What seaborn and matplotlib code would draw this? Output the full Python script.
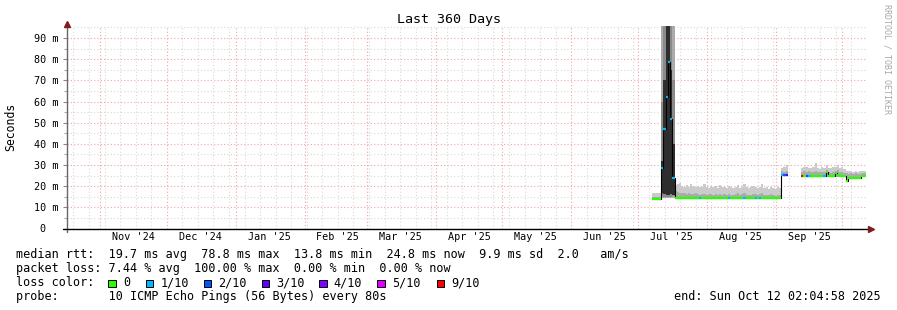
import datetime as dt
import numpy as np
import pandas as pd
import matplotlib
matplotlib.use("Agg")
import matplotlib.pyplot as plt
import matplotlib.dates as mdates
from matplotlib.patches import Rectangle
from matplotlib.ticker import MultipleLocator, FuncFormatter
import seaborn as sns

nan = np.nan

# ---------------- data (one sample per day, starting 2025-07-07 12:00) ----------------
data_start = "2025-07-07 12:00"

median = ([13.8] * 4 + [28.7, 47.0, 62.0, 78.8, 51.8, 24.0]
          + [14.6, 14.6, 14.5, 14.5, 14.4, 14.4, 14.3, 14.3, 14.3, 14.2]
          + [14.2] * 38 + [25.3, 25.3, 25.3] + [nan] * 6
          + [24.9] * 11
          + [26.5, 24.9, 24.9, 24.9, 26.0, 25.5, 24.9, 24.9, 24.9, 22.3]
          + [24.0] * 6 + [24.8, 24.8])

loss = ([0] * 4 + [1] * 6 + [0] * 11 + [1] + [0] * 12 + [1] + [0] * 6 + [1]
        + [0] * 4 + [1] + [0] + [1] + [0] * 9 + [1, 2, 3] + [nan] * 6
        + [9, 0, 2, 1] + [0] * 6 + [1] + [0] * 18)

smoke_lo = ([13.4] * 4 + [14.2] * 6 + [13.9] * 48 + [24.9] * 3 + [nan] * 6
            + [24.5] * 20 + [21.9] + [23.6] * 6 + [24.4] * 2)

smoke_mid = ([15.0] * 4 + [96.0] * 6
             + [17.5, 17.2, 17.0, 16.6, 16.8, 16.4, 16.9, 16.5, 16.2, 16.6,
                16.3, 16.0, 16.5, 16.2, 15.9, 16.4, 16.1, 15.8, 16.3, 16.0,
                16.4, 15.9, 16.2, 15.8, 16.5, 16.0, 15.7, 16.2, 16.6, 15.9,
                16.1, 16.7, 15.9, 15.6, 16.0, 16.4, 16.2, 15.8, 16.3, 16.8,
                15.9, 16.0, 15.6, 16.1, 15.7, 15.5, 15.9, 15.6]
             + [27.0, 26.8, 27.3] + [nan] * 6
             + [26.9, 27.2, 26.8, 27.0, 26.6, 26.9, 27.4, 26.7, 26.5, 26.9,
                26.6, 27.5, 26.8, 26.4, 26.9, 27.3, 27.6, 26.7, 26.9, 26.4,
                26.0, 25.9, 26.1, 25.8, 26.0, 25.7, 25.9, 26.2, 26.0])

smoke_hi = ([16.6] * 4 + [96.0] * 6
            + [20.5, 20.8, 21.4, 20.2, 19.8, 20.6, 19.6, 21.2, 19.9, 19.5,
               20.3, 19.4, 19.8, 21.0, 19.6, 19.2, 20.1, 19.5, 19.9, 19.3,
               20.6, 19.4, 19.7, 19.2, 20.2, 19.6, 19.0, 19.8, 20.4, 19.3,
               19.6, 20.9, 19.5, 19.1, 19.8, 20.3, 19.4, 19.0, 19.7, 21.0,
               19.2, 19.5, 18.9, 19.6, 19.1, 18.8, 19.4, 19.0]
            + [28.6, 29.0, 30.0] + [nan] * 6
            + [28.6, 28.9, 29.2, 28.4, 28.8, 29.0, 31.1, 28.7, 28.3, 29.1,
               28.6, 30.0, 28.8, 28.4, 29.3, 28.9, 30.0, 28.5, 28.9, 28.2,
               27.4, 27.0, 27.3, 26.9, 27.2, 26.8, 27.1, 27.3, 27.0])

# darker inner smoke, only during the early-July spike
inner_lo = [nan] * 4 + [15.5, 15.0, 15.0, 15.0, 15.0, 15.5] + [nan] * 86
inner_hi = [nan] * 4 + [60.0, 96.0, 96.0, 96.0, 96.0, 70.0] + [nan] * 86
core_lo = [nan] * 4 + [17.0, 16.5, 16.0, 16.0, 16.5, 16.0] + [nan] * 86
core_hi = [nan] * 4 + [32.0, 70.0, 96.0, 96.0, 75.0, 40.0] + [nan] * 86

loss_labels = ["0", "1/10", "2/10", "3/10", "4/10", "5/10", "9/10"]
loss_values = [0, 1, 2, 3, 4, 5, 9]
loss_hex = ["#26ff00", "#00b8ff", "#0059ff", "#5e00ff", "#7e00ff", "#dd00ff", "#ff0000"]

y_ticks_ms = [0, 10, 20, 30, 40, 50, 60, 70, 80, 90]

stat_lines = [
    "median rtt:  19.7 ms avg  78.8 ms max  13.8 ms min  24.8 ms now  9.9 ms sd  2.0   am/s",
    "packet loss: 7.44 % avg  100.00 % max  0.00 % min  0.00 % now",
]
probe_line = "probe:       10 ICMP Echo Pings (56 Bytes) every 80s"
end_line = "end: Sun Oct 12 02:04:58 2025"
title = "Last 360 Days"

# ---------------- style ----------------
sns.set_theme(style="white")
plt.rcParams["font.family"] = ["DejaVu Sans Mono", "DejaVu Sans"]
plt.rcParams["text.color"] = "black"

W, H = 897, 310
fig = plt.figure(figsize=(W / 100, H / 100), dpi=100)
fig.patch.set_facecolor("white")
X0, X1, YB, YT = 67, 867, 228.5, 26
ax = fig.add_axes([X0 / W, 1 - YB / H, (X1 - X0) / W, (YB - YT) / H])
ax.set_facecolor("white")

t_start = dt.datetime(2024, 10, 17, 2, 4, 58)
t_end = dt.datetime(2025, 10, 12, 2, 4, 58)

med = np.array(median, dtype=float)
lss = np.array(loss, dtype=float)
edges = pd.date_range(data_start, periods=len(med) + 1, freq="D")
e = mdates.date2num(edges.to_pydatetime())

LIGHT, MID, INNER, DARK = "#cbcbcb", "#ababab", "#8a8a8a", "#2e2e2e"
ax.stairs(np.array(smoke_hi), e, baseline=np.array(smoke_lo), fill=True,
          color=LIGHT, lw=0, zorder=2)
ax.stairs(np.array(smoke_mid), e, baseline=np.array(smoke_lo), fill=True,
          color=MID, lw=0, zorder=2.1)
ax.stairs(np.array(inner_hi), e, baseline=np.array(inner_lo), fill=True,
          color=INNER, lw=0, zorder=2.15)
ax.stairs(np.array(core_hi), e, baseline=np.array(core_lo), fill=True,
          color=DARK, lw=0, zorder=2.2)

df = pd.DataFrame({"t": e[:-1], "median": med,
                   "seg": np.cumsum(np.isnan(med))})
sns.lineplot(data=df, x="t", y="median", units="seg", estimator=None,
             drawstyle="steps-post", color="black", lw=0.8, ax=ax,
             zorder=3, legend=False)

cmap = dict(zip(loss_values, loss_hex))
ok = ~np.isnan(med)
ax.hlines(med[ok], e[:-1][ok], e[1:][ok],
          colors=[cmap[int(v)] for v in lss[ok]], lw=1.6, zorder=4)

ax.set_xlabel("")
ax.set_ylabel("")
ax.set_xlim(mdates.date2num(t_start), mdates.date2num(t_end))
ax.set_ylim(0, 95.7)
ax.xaxis.set_major_locator(mdates.MonthLocator())
ax.xaxis.set_minor_locator(mdates.WeekdayLocator(byweekday=mdates.SU))
ax.xaxis.set_major_formatter(plt.NullFormatter())
ax.xaxis.set_minor_formatter(plt.NullFormatter())
ax.set_yticks(y_ticks_ms)
ax.yaxis.set_minor_locator(MultipleLocator(5))
ax.yaxis.set_major_formatter(FuncFormatter(lambda v, p: f"{v:.0f} m" if v > 0 else "0  "))
ax.grid(True, which="major", color="#f0a4a4", ls=(0, (1, 2)), lw=0.8)
ax.grid(True, which="minor", color="#d8d8d8", ls=(0, (1, 2)), lw=0.8)
ax.set_axisbelow(True)
ax.tick_params(axis="x", which="both", length=0)
ax.tick_params(axis="y", which="major", left=True, length=3, width=0.8,
               color="#888888", pad=2.9, labelsize=7.3, labelcolor="black")
ax.tick_params(axis="y", which="minor", left=True, length=2, width=0.8, color="#aaaaaa")
for s in ax.spines.values():
    s.set_visible(False)

ph = YB - YT
pw = X1 - X0
ax.plot([0, 0], [-3 / ph, 1.0], transform=ax.transAxes, clip_on=False,
        color="#666666", lw=1.0, zorder=5)
ax.plot([-4 / pw, 1.0 + 1 / pw], [0, 0], transform=ax.transAxes, clip_on=False,
        color="black", lw=1.0, zorder=5)
ax.plot([0], [1 + 2.5 / ph], marker="^", ms=4.5, color="#7f1d1d", mec="#7f1d1d",
        transform=ax.transAxes, clip_on=False, zorder=6)
ax.plot([1 + 3.5 / pw], [0], marker=">", ms=4.5, color="#7f1d1d", mec="#7f1d1d",
        transform=ax.transAxes, clip_on=False, zorder=6)

# month labels at month start + 15 days
months = pd.date_range("2024-11-01", "2025-09-01", freq="MS")
for m in months:
    ax.text(mdates.date2num((m + pd.Timedelta(days=15)).to_pydatetime()),
            -(237.5 - YB) / ph, m.strftime("%b '%y"),
            transform=ax.get_xaxis_transform(), ha="center", va="center",
            fontsize=7.3, color="black")

# titles
fig.text(448.5 / W, 1 - 19 / H, title, ha="center", va="center", fontsize=9.6)
fig.text(11 / W, 1 - 127 / H, "Seconds", rotation=90, ha="center", va="center",
         fontsize=8.3)
fig.text(887 / W, 1 - 59 / H, "RRDTOOL / TOBI OETIKER", rotation=270,
         ha="center", va="center", fontsize=6.0, color="#a8a8a8")

# legend block
FS = 8.5
fig.text(16 / W, 1 - 254.5 / H, stat_lines[0], ha="left", va="center", fontsize=FS)
fig.text(16 / W, 1 - 268.5 / H, stat_lines[1], ha="left", va="center", fontsize=FS)
fig.text(16 / W, 1 - 282.7 / H, "loss color:", ha="left", va="center", fontsize=FS)
sq_x = [108.3, 145.7, 204.0, 261.7, 319.3, 377.3, 436.7]
for xs, lab, col in zip(sq_x, loss_labels, loss_hex):
    fig.add_artist(Rectangle((xs / W, 1 - 286.8 / H), 7.3 / W, 7.3 / H,
                             transform=fig.transFigure, facecolor=col,
                             edgecolor="black", lw=0.7))
    fig.text((xs + 14.5) / W, 1 - 282.7 / H, lab, ha="left", va="center", fontsize=FS)
fig.text(16 / W, 1 - 296.7 / H, probe_line, ha="left", va="center", fontsize=FS)
fig.text(880.5 / W, 1 - 296.7 / H, end_line, ha="right", va="center", fontsize=FS)

fig.savefig("out.png", dpi=100, facecolor="white")
